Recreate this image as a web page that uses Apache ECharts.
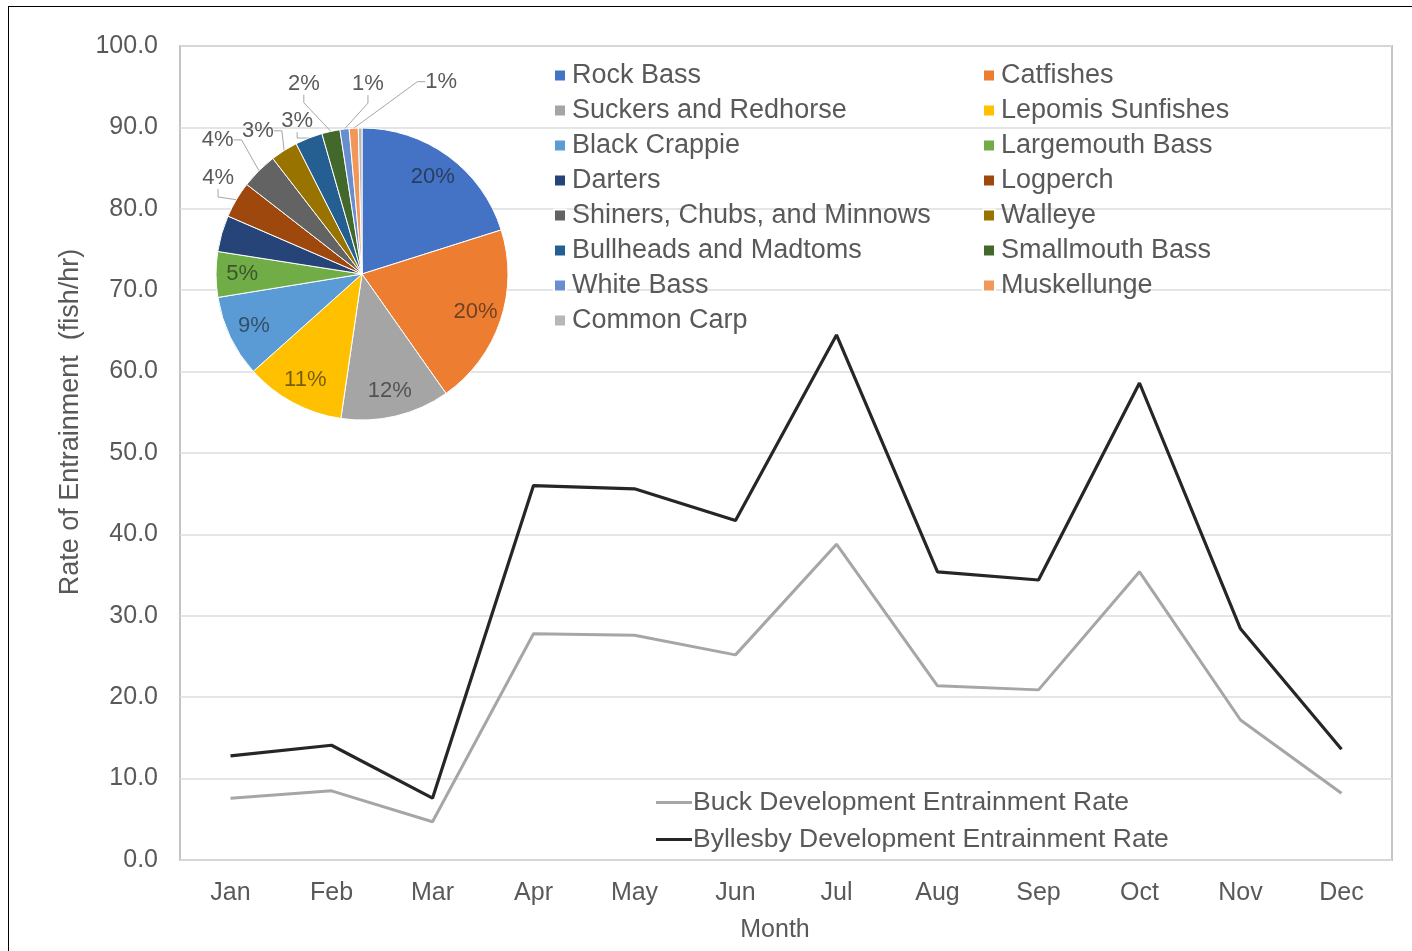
<!DOCTYPE html>
<html>
<head>
<meta charset="utf-8">
<script src="https://cdn.jsdelivr.net/npm/echarts@6/dist/echarts.min.js"></script>
<style>
  html, body { margin: 0; padding: 0; background: #fff; }
  #chart { position: absolute; left: 0; top: 0; width: 1412px; height: 951px; }
  #frame { position: absolute; left: 8px; top: 6px; width: 1430px; height: 970px; border: 1px solid #000; pointer-events: none; }
</style>
</head>
<body>
<div id="chart"></div>
<div id="frame"></div>
<script>
// Monthly entrainment rates (fish/hr)
const months = ['Jan', 'Feb', 'Mar', 'Apr', 'May', 'Jun', 'Jul', 'Aug', 'Sep', 'Oct', 'Nov', 'Dec'];
const buckRate = [7.6, 8.5, 4.7, 27.8, 27.6, 25.2, 38.8, 21.4, 20.9, 35.4, 17.2, 8.2];
const byllesbyRate = [12.8, 14.1, 7.6, 46.0, 45.6, 41.7, 64.5, 35.4, 34.4, 58.6, 28.4, 13.6];

// Species composition of entrained fish (percent)
const species = ['Rock Bass', 'Catfishes', 'Suckers and Redhorse', 'Lepomis Sunfishes', 'Black Crappie',
  'Largemouth Bass', 'Darters', 'Logperch', 'Shiners, Chubs, and Minnows', 'Walleye',
  'Bullheads and Madtoms', 'Smallmouth Bass', 'White Bass', 'Muskellunge', 'Common Carp'];
const speciesShare = [20, 20, 12, 11, 9, 5, 4, 4, 4, 3, 3, 2, 1, 1, 0.4];

// Slice colours
const sliceColors = ['#4472C4', '#ED7D31', '#A5A5A5', '#FFC000', '#5B9BD5', '#70AD47', '#264478',
  '#9E480E', '#636363', '#997300', '#255E91', '#43682B', '#698ED0', '#F1975A', '#B7B7B7'];

// Which slices carry their percentage inside the pie
const insideLabelled = new Set(['Rock Bass', 'Catfishes', 'Suckers and Redhorse', 'Lepomis Sunfishes', 'Black Crappie', 'Largemouth Bass']);

// Callout placement for the thin slices: [angle clockwise from 12 o'clock (deg), distance from pie centre (px)]
const calloutPolar = {
  'Logperch': [303.7, 173],
  'Shiners, Chubs, and Minnows': [312.9, 197],
  'Walleye': [324.0, 177],
  'Bullheads and Madtoms': [337.0, 166],
  'Smallmouth Bass': [343.0, 199],
  'White Bass': [1.8, 190],
  'Muskellunge': [22.4, 208]
};

const FONT = '"Liberation Sans", Arial, sans-serif';
const TEXT = '#595959';
const PIE_CENTER = [362, 274];
const PIE_R = 146;

const mainPieData = species.map((name, i) => ({
  name,
  value: speciesShare[i],
  itemStyle: { color: sliceColors[i] },
  label: { show: name in calloutPolar },
  labelLine: { show: name in calloutPolar }
}));

const ringLabelData = species.map((name, i) => ({
  name,
  value: speciesShare[i],
  label: { show: insideLabelled.has(name) }
}));

const leftNames = species.filter((_, i) => i % 2 === 0);
const rightNames = species.filter((_, i) => i % 2 === 1);

const pieLegendBase = {
  orient: 'vertical',
  top: 57,
  itemWidth: 12,
  itemHeight: 12,
  itemGap: 8,
  icon: 'rect',
  selectedMode: false,
  textStyle: { fontFamily: FONT, fontSize: 27, color: TEXT, lineHeight: 27, padding: [0, 0, 0, 1] }
};

const option = {
  animation: false,
  backgroundColor: '#fff',
  grid: { left: 180, right: 20, top: 46, bottom: 91, show: true, borderColor: '#c4c4c4', borderWidth: 2 },
  legend: [
    Object.assign({}, pieLegendBase, { left: 548, data: leftNames }),
    Object.assign({}, pieLegendBase, { left: 977, data: rightNames }),
    {
      orient: 'vertical',
      left: 651,
      top: 784,
      itemWidth: 36,
      itemHeight: 3,
      itemGap: 10,
      icon: 'rect',
      selectedMode: false,
      data: ['Buck Development Entrainment Rate', 'Byllesby Development Entrainment Rate'],
      textStyle: { fontFamily: FONT, fontSize: 26.5, color: TEXT, lineHeight: 26, padding: [0, 0, 0, -4] }
    }
  ],
  xAxis: {
    type: 'category',
    data: months,
    boundaryGap: true,
    axisLine: { show: false },
    axisTick: { show: false },
    axisLabel: { fontFamily: FONT, fontSize: 25, color: TEXT, margin: 21 },
    name: 'Month',
    nameLocation: 'middle',
    nameGap: 58,
    nameTextStyle: { fontFamily: FONT, fontSize: 25, color: TEXT, padding: [0, 22, 0, 0] }
  },
  yAxis: {
    type: 'value',
    min: 0,
    max: 100,
    interval: 10,
    axisLine: { show: false },
    axisTick: { show: false },
    axisLabel: { fontFamily: FONT, fontSize: 25, color: TEXT, margin: 22, padding: [6, 0, 0, 0], formatter: v => v.toFixed(1) },
    splitLine: { lineStyle: { color: '#dcdcdc', width: 1.5 } },
    name: 'Rate of Entrainment  (fish/hr)',
    nameLocation: 'middle',
    nameGap: 93,
    nameRotate: 90,
    nameTextStyle: { fontFamily: FONT, fontSize: 27, color: TEXT, padding: [0, 0, 0, 62] }
  },
  series: [
    {
      name: 'Buck Development Entrainment Rate',
      type: 'line',
      data: buckRate,
      symbol: 'none',
      lineStyle: { color: '#a6a6a6', width: 3 },
      itemStyle: { color: '#a6a6a6' },
      z: 3
    },
    {
      name: 'Byllesby Development Entrainment Rate',
      type: 'line',
      data: byllesbyRate,
      symbol: 'none',
      lineStyle: { color: '#262626', width: 3.2 },
      itemStyle: { color: '#262626' },
      z: 4
    },
    {
      name: 'Species',
      type: 'pie',
      center: PIE_CENTER,
      radius: [0, PIE_R],
      startAngle: 90,
      clockwise: true,
      avoidLabelOverlap: false,
      z: 5,
      data: mainPieData,
      itemStyle: { borderColor: '#fff', borderWidth: 1 },
      label: {
        position: 'outside',
        formatter: p => p.value + '%',
        fontFamily: FONT,
        fontSize: 22,
        color: TEXT
      },
      labelLine: { length: 10, length2: 8, lineStyle: { color: '#a6a6a6', width: 1 } },
      labelLayout: function (params) {
        const spot = calloutPolar[species[params.dataIndex]];
        if (!spot) return {};
        const a = spot[0] * Math.PI / 180;
        return {
          x: PIE_CENTER[0] + spot[1] * Math.sin(a),
          y: PIE_CENTER[1] - spot[1] * Math.cos(a),
          align: 'center',
          verticalAlign: 'middle'
        };
      },
      emphasis: { disabled: true }
    },
    {
      name: 'Species labels',
      type: 'pie',
      center: PIE_CENTER,
      radius: [PIE_R * 0.6, PIE_R],
      startAngle: 90,
      clockwise: true,
      silent: true,
      z: 6,
      data: ringLabelData,
      itemStyle: { color: 'rgba(0,0,0,0)' },
      label: {
        position: 'inside',
        formatter: p => p.value + '%',
        fontFamily: FONT,
        fontSize: 22,
        color: 'rgba(25,25,25,0.6)'
      },
      labelLine: { show: false },
      emphasis: { disabled: true }
    }
  ]
};

const chart = echarts.init(document.getElementById('chart'), null, { renderer: 'canvas' });
chart.setOption(option);
</script>
</body>
</html>
